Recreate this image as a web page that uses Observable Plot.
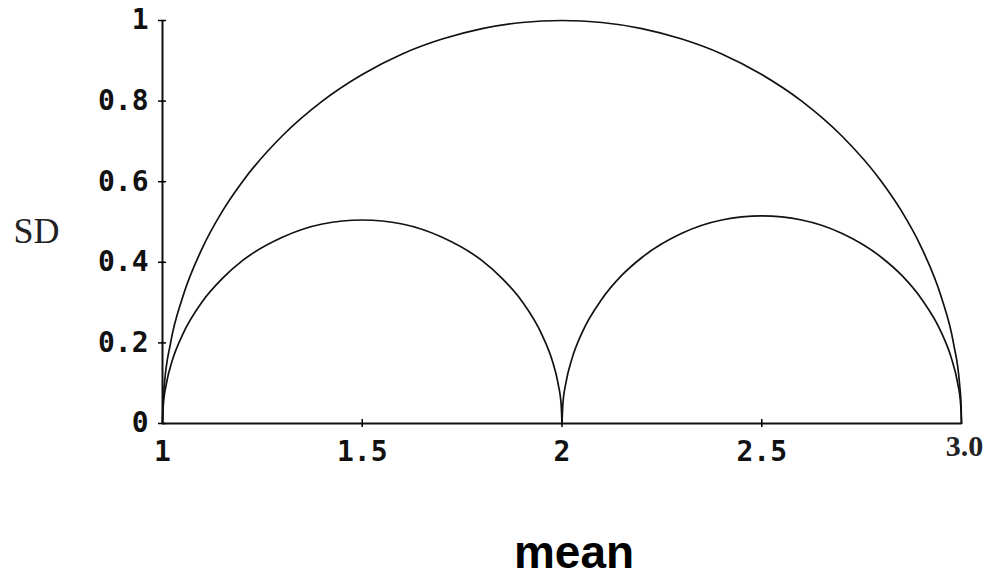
<!DOCTYPE html>
<html><head><meta charset="utf-8">
<script src="https://cdn.jsdelivr.net/npm/d3@7"></script>
<script src="https://cdn.jsdelivr.net/npm/@observablehq/plot@0.6"></script>
<style>body{margin:0;background:#fff}</style>
</head><body><div id="chart"></div>
<script>
// Tick values and labels
const yTicks = [0, 0.2, 0.4, 0.6, 0.8, 1];
const yTickLabels = ["0", "0.2", "0.4", "0.6", "0.8", "1"];
const xTicks = [1, 1.5, 2, 2.5];
const xTickLabels = ["1", "1.5", "2", "2.5"];
const xEnd = [3];
const xEndLabel = ["3.0"];
const xTickMarks = [1.5, 2, 2.5];

// Outer arc (maximum SD)
const bigMean = [1, 1.001, 1.005, 1.02, 1.05, 1.1, 1.15, 1.2, 1.3, 1.4, 1.5, 1.6, 1.7, 1.8, 1.9, 2.0,
  2.1, 2.2, 2.3, 2.4, 2.5, 2.6, 2.7, 2.8, 2.85, 2.9, 2.95, 2.98, 2.995, 2.999, 3];
const bigSD = [0, 0.045, 0.100, 0.199, 0.312, 0.436, 0.527, 0.600, 0.714, 0.800, 0.866, 0.917, 0.954, 0.980, 0.995, 1.0,
  0.995, 0.980, 0.954, 0.917, 0.866, 0.800, 0.714, 0.600, 0.527, 0.436, 0.312, 0.199, 0.100, 0.045, 0];

// Left inner arc
const leftMean = [1, 1.002, 1.01, 1.025, 1.05, 1.1, 1.15, 1.2, 1.3, 1.4, 1.5, 1.6, 1.7, 1.8, 1.85, 1.9, 1.95, 1.975, 1.99, 1.998, 2];
const leftSD = [0, 0.045, 0.100, 0.158, 0.220, 0.303, 0.360, 0.404, 0.462, 0.495, 0.505, 0.495, 0.462, 0.404, 0.360, 0.303, 0.220, 0.158, 0.100, 0.045, 0];

// Right inner arc
const rightMean = [2, 2.002, 2.01, 2.025, 2.05, 2.1, 2.15, 2.2, 2.3, 2.4, 2.5, 2.6, 2.7, 2.8, 2.85, 2.9, 2.95, 2.975, 2.99, 2.998, 3];
const rightSD = [0, 0.046, 0.102, 0.161, 0.225, 0.309, 0.368, 0.412, 0.472, 0.505, 0.515, 0.505, 0.472, 0.412, 0.368, 0.309, 0.225, 0.161, 0.102, 0.046, 0];

const rows = [
  ...bigMean.map((m, i) => ({arc: "big", mean: m, sd: bigSD[i]})),
  ...leftMean.map((m, i) => ({arc: "left", mean: m, sd: leftSD[i]})),
  ...rightMean.map((m, i) => ({arc: "right", mean: m, sd: rightSD[i]}))
];

const yLab = new Map(yTicks.map((t, i) => [t, yTickLabels[i]]));
const xLab = new Map(xTicks.map((t, i) => [t, xTickLabels[i]]));

const chart = Plot.plot({
  width: 988,
  height: 583,
  marginLeft: 162,
  marginRight: 27,
  marginTop: 20,
  marginBottom: 160,
  x: {domain: [1, 3]},
  y: {domain: [0, 1]},
  style: {background: "#fff", color: "#000"},
  marks: [
    Plot.ruleX([1], {stroke: "#111", strokeWidth: 2}),
    Plot.ruleY([0], {stroke: "#111", strokeWidth: 2}),
    Plot.axisY(yTicks, {tickSize: 8, dx: 4, text: null, label: null, strokeWidth: 1.5}),
    Plot.axisY(yTicks, {tickSize: 0, tickPadding: 14, tickFormat: d => yLab.get(d), label: null,
      fontFamily: "DejaVu Sans Mono", fontWeight: "bold", fontSize: 28, fill: "#111"}),
    Plot.axisX(xTickMarks, {tickSize: 8, dy: -4, text: null, label: null, strokeWidth: 1.5}),
    Plot.axisX(xTicks, {tickSize: 0, tickPadding: 18, tickFormat: d => xLab.get(d), label: null,
      fontFamily: "DejaVu Sans Mono", fontWeight: "bold", fontSize: 28, fill: "#111"}),
    Plot.text(xEnd, {x: d => d, frameAnchor: "bottom", text: (d, i) => xEndLabel[i], lineAnchor: "top", dy: 11, dx: 3,
      fontFamily: "Liberation Serif", fontWeight: "bold", fontSize: 30, fill: "#222"}),
    Plot.line(rows, {x: "mean", y: "sd", z: "arc", curve: "monotone-x", stroke: "#111", strokeWidth: 1.7}),
    Plot.text(["SD"], {text: d => d, frameAnchor: "left", textAnchor: "start", dx: -149, dy: 9,
      fontFamily: "Liberation Serif", fontSize: 36, fill: "#222"}),
    Plot.text(["mean"], {text: d => d, frameAnchor: "bottom", lineAnchor: "bottom", dx: 12, dy: 144,
      fontFamily: "Liberation Sans", fontWeight: "bold", fontSize: 46, fill: "#000"})
  ]
});
document.getElementById("chart").appendChild(chart);
</script>
</body></html>
